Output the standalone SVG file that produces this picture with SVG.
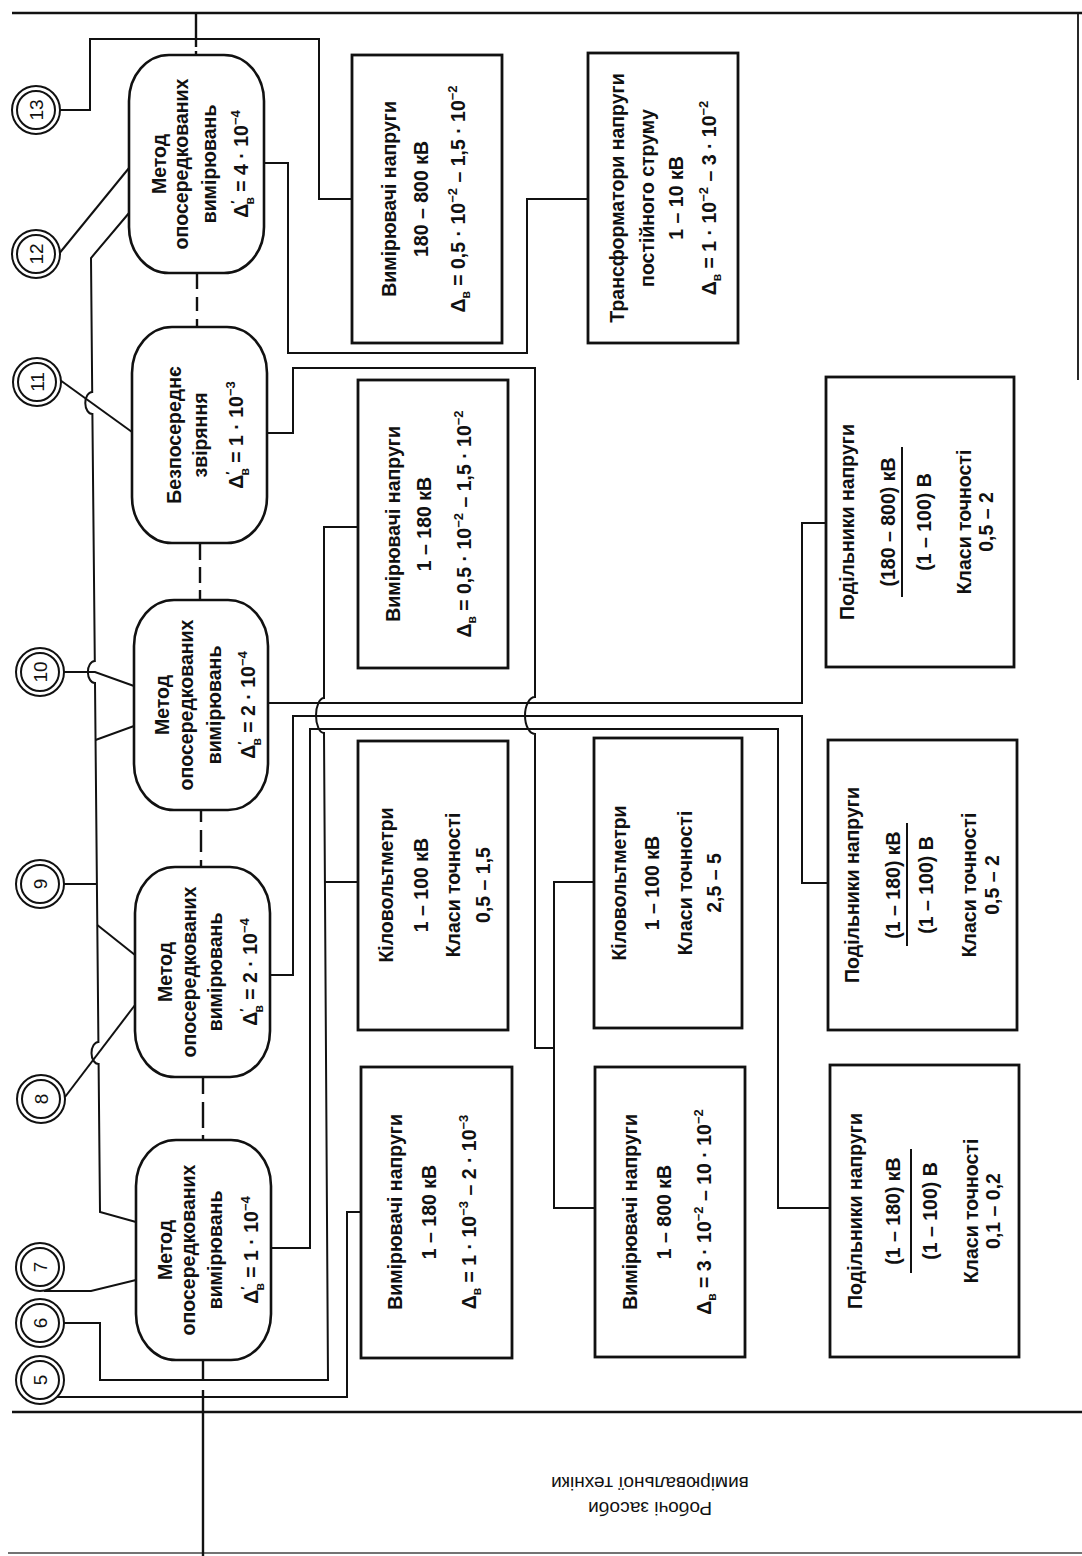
<svg xmlns="http://www.w3.org/2000/svg" width="1082" height="1556" viewBox="0 0 1082 1556">
<style>
.ln{fill:none;stroke:#111;stroke-width:2;stroke-linejoin:miter}
.sp{fill:none;stroke:#111;stroke-width:2.4}
.fr{fill:none;stroke:#111;stroke-width:2.5}
.box{fill:#fff;stroke:#111;stroke-width:2.8}
.ov{fill:#fff;stroke:#111;stroke-width:2.6}
.cc{fill:#fff;stroke:#111;stroke-width:2}
.bar{stroke:#111;stroke-width:2}
.t{font-family:"Liberation Sans",Arial,sans-serif;font-weight:bold;font-size:19.5px;fill:#111;text-anchor:middle}
.n{font-family:"Liberation Sans",Arial,sans-serif;font-size:19px;fill:#111;text-anchor:middle}
.f{font-family:"Liberation Sans",Arial,sans-serif;font-size:19px;fill:#111;text-anchor:middle}
.s{font-size:12px}
.u{font-size:13px}
</style>
<rect width="1082" height="1556" fill="#fff"/>

<g id="frame">
<path class="fr" d="M12,13 H1082"/>
<path class="ln" d="M1078,13 V380" style="stroke-width:1.8"/>
<path class="fr" d="M12,1412 H1082"/>
<path class="ln" d="M8,1553 H1082" style="stroke:#444;stroke-width:1.5"/>
</g>

<g id="connectors">
<path class="sp" d="M196,13 V47 M196,51 V55 M197,273 V289 M197,297 V311 M197,319 V327 M200,543 V560 M200,567 V583 M200,590 V600 M201,810 V822 M201,830 V852 M201,860 V867 M203,1077 V1094 M203,1102 V1128 M203,1135 V1140 M203,1360 V1380 M203,1390 V1556"/>
<path class="ln" d="M58,110 H90 V39 H319 V199 H352"/>
<path class="ln" d="M58,255 L129,168"/>
<path class="ln" d="M129,213 L91,258 L92.2,392 A7 11 0 0 0 92.4,414 L94.8,661 A7 11 0 0 0 95,683 L98.4,1042 A7 11 0 0 0 98.6,1064 L100,1212 L136,1222"/>
<path class="ln" d="M95.5,740 L134,726"/>
<path class="ln" d="M97.3,925 L135,955"/>
<path class="ln" d="M60,380 L132,432"/>
<path class="ln" d="M64,672 H95 L134,686"/>
<path class="ln" d="M64,884 H97"/>
<path class="ln" d="M65,1097 L135,1005"/>
<path class="ln" d="M44,1291 H91 L136,1280"/>
<path class="ln" d="M358,527 H324 V698 A8 17.5 0 0 0 324,733 L328,1380 H100 V1323 H64"/>
<path class="ln" d="M325,882 H358"/>
<path class="ln" d="M57,1397 H347 V1212 H361"/>
<path class="ln" d="M264,163 H288 V353 H527 V199 H588"/>
<path class="ln" d="M267,433 H293 V368 H535 V697 A10 18.5 0 0 0 535,734 V1048 H554"/>
<path class="ln" d="M594,882 H554 V1208 H595"/>
<path class="ln" d="M268,703 H802 V523 H826"/>
<path class="ln" d="M270,975 H293 V716 H802 V883 H828"/>
<path class="ln" d="M271,1248 H310 V729 H778 V1208 H830"/>
</g>

<g id="c13"><circle class="cc" cx="36" cy="110" r="24"/><circle class="cc" cx="36" cy="110" r="19"/><text class="n" transform="translate(43,110) rotate(-90)">13</text></g>
<g id="c12"><circle class="cc" cx="36" cy="254" r="24"/><circle class="cc" cx="36" cy="254" r="19"/><text class="n" transform="translate(43,254) rotate(-90)">12</text></g>
<g id="c11"><circle class="cc" cx="37" cy="382" r="24"/><circle class="cc" cx="37" cy="382" r="19"/><text class="n" transform="translate(44,382) rotate(-90)">11</text></g>
<g id="c10"><circle class="cc" cx="40" cy="672" r="24"/><circle class="cc" cx="40" cy="672" r="19"/><text class="n" transform="translate(47,672) rotate(-90)">10</text></g>
<g id="c9"><circle class="cc" cx="40" cy="884" r="24"/><circle class="cc" cx="40" cy="884" r="19"/><text class="n" transform="translate(47,884) rotate(-90)">9</text></g>
<g id="c8"><circle class="cc" cx="41" cy="1099" r="24"/><circle class="cc" cx="41" cy="1099" r="19"/><text class="n" transform="translate(48,1099) rotate(-90)">8</text></g>
<g id="c7"><circle class="cc" cx="40" cy="1267" r="24"/><circle class="cc" cx="40" cy="1267" r="19"/><text class="n" transform="translate(47,1267) rotate(-90)">7</text></g>
<g id="c6"><circle class="cc" cx="40" cy="1323" r="24"/><circle class="cc" cx="40" cy="1323" r="19"/><text class="n" transform="translate(47,1323) rotate(-90)">6</text></g>
<g id="c5"><circle class="cc" cx="40" cy="1380" r="24"/><circle class="cc" cx="40" cy="1380" r="19"/><text class="n" transform="translate(47,1380) rotate(-90)">5</text></g>

<g id="o13">
<rect class="ov" x="129" y="55" width="135" height="218" rx="40" ry="46"/>
<text class="t" transform="translate(166,164) rotate(-90)">Метод</text>
<text class="t" transform="translate(188,164) rotate(-90)">опосередкованих</text>
<text class="t" transform="translate(216,164) rotate(-90)">вимірювань</text>
<text class="t" transform="translate(248,164) rotate(-90)">Δ<tspan class="u" dy="-8">′</tspan><tspan class="s" dx="-4" dy="14">в</tspan><tspan dy="-6"> = 4 · 10</tspan><tspan class="u" dy="-8">−4</tspan></text>
</g>
<g id="o11">
<rect class="ov" x="132" y="327" width="135" height="216" rx="40" ry="46"/>
<text class="t" transform="translate(181,435) rotate(-90)">Безпосереднє</text>
<text class="t" transform="translate(207,435) rotate(-90)">звіряння</text>
<text class="t" transform="translate(243,435) rotate(-90)">Δ<tspan class="u" dy="-8">′</tspan><tspan class="s" dx="-4" dy="14">в</tspan><tspan dy="-6"> = 1 · 10</tspan><tspan class="u" dy="-8">−3</tspan></text>
</g>
<g id="o10">
<rect class="ov" x="134" y="600" width="134" height="210" rx="40" ry="46"/>
<text class="t" transform="translate(169,705) rotate(-90)">Метод</text>
<text class="t" transform="translate(193,705) rotate(-90)">опосередкованих</text>
<text class="t" transform="translate(221,705) rotate(-90)">вимірювань</text>
<text class="t" transform="translate(255,705) rotate(-90)">Δ<tspan class="u" dy="-8">′</tspan><tspan class="s" dx="-4" dy="14">в</tspan><tspan dy="-6"> = 2 · 10</tspan><tspan class="u" dy="-8">−4</tspan></text>
</g>
<g id="o9">
<rect class="ov" x="135" y="867" width="135" height="210" rx="40" ry="46"/>
<text class="t" transform="translate(172,972) rotate(-90)">Метод</text>
<text class="t" transform="translate(196,972) rotate(-90)">опосередкованих</text>
<text class="t" transform="translate(222,972) rotate(-90)">вимірювань</text>
<text class="t" transform="translate(257,972) rotate(-90)">Δ<tspan class="u" dy="-8">′</tspan><tspan class="s" dx="-4" dy="14">в</tspan><tspan dy="-6"> = 2 · 10</tspan><tspan class="u" dy="-8">−4</tspan></text>
</g>
<g id="o7">
<rect class="ov" x="136" y="1140" width="135" height="220" rx="40" ry="46"/>
<text class="t" transform="translate(172,1250) rotate(-90)">Метод</text>
<text class="t" transform="translate(195,1250) rotate(-90)">опосередкованих</text>
<text class="t" transform="translate(222,1250) rotate(-90)">вимірювань</text>
<text class="t" transform="translate(258,1250) rotate(-90)">Δ<tspan class="u" dy="-8">′</tspan><tspan class="s" dx="-4" dy="14">в</tspan><tspan dy="-6"> = 1 · 10</tspan><tspan class="u" dy="-8">−4</tspan></text>
</g>

<g id="b1">
<rect class="box" x="352" y="55" width="150" height="288"/>
<text class="t" transform="translate(396,199) rotate(-90)">Вимірювачі напруги</text>
<text class="t" transform="translate(428,199) rotate(-90)">180 – 800 кВ</text>
<text class="t" transform="translate(465,199) rotate(-90)">Δ<tspan class="s" dy="5">в</tspan><tspan dy="-5"> = 0,5 · 10</tspan><tspan class="u" dy="-8">−2</tspan><tspan dy="8"> – 1,5 · 10</tspan><tspan class="u" dy="-8">−2</tspan></text>
</g>
<g id="b2">
<rect class="box" x="588" y="53" width="150" height="290"/>
<text class="t" transform="translate(624,198) rotate(-90)">Трансформатори напруги</text>
<text class="t" transform="translate(654,198) rotate(-90)">постійного струму</text>
<text class="t" transform="translate(683,198) rotate(-90)">1 – 10 кВ</text>
<text class="t" transform="translate(716,198) rotate(-90)">Δ<tspan class="s" dy="5">в</tspan><tspan dy="-5"> = 1 · 10</tspan><tspan class="u" dy="-8">−2</tspan><tspan dy="8"> – 3 · 10</tspan><tspan class="u" dy="-8">−2</tspan></text>
</g>
<g id="b3">
<rect class="box" x="358" y="380" width="150" height="288"/>
<text class="t" transform="translate(400,524) rotate(-90)">Вимірювачі напруги</text>
<text class="t" transform="translate(431,524) rotate(-90)">1 – 180 кВ</text>
<text class="t" transform="translate(471,524) rotate(-90)">Δ<tspan class="s" dy="5">в</tspan><tspan dy="-5"> = 0,5 · 10</tspan><tspan class="u" dy="-8">−2</tspan><tspan dy="8"> – 1,5 · 10</tspan><tspan class="u" dy="-8">−2</tspan></text>
</g>
<g id="b4">
<rect class="box" x="826" y="377" width="188" height="290"/>
<text class="t" transform="translate(854,522) rotate(-90)">Подільники напруги</text>
<text class="t" transform="translate(895,522) rotate(-90)">(180 – 800) кВ</text>
<line class="bar" x1="902" y1="447" x2="902" y2="597"/>
<text class="t" transform="translate(931,522) rotate(-90)">(1 – 100) В</text>
<text class="t" transform="translate(971,522) rotate(-90)">Класи точності</text>
<text class="t" transform="translate(993,522) rotate(-90)">0,5 – 2</text>
</g>
<g id="b5">
<rect class="box" x="358" y="741" width="150" height="289"/>
<text class="t" transform="translate(393,885) rotate(-90)">Кіловольтметри</text>
<text class="t" transform="translate(428,885) rotate(-90)">1 – 100 кВ</text>
<text class="t" transform="translate(460,885) rotate(-90)">Класи точності</text>
<text class="t" transform="translate(490,885) rotate(-90)">0,5 – 1,5</text>
</g>
<g id="b6">
<rect class="box" x="594" y="738" width="148" height="290"/>
<text class="t" transform="translate(626,883) rotate(-90)">Кіловольтметри</text>
<text class="t" transform="translate(659,883) rotate(-90)">1 – 100 кВ</text>
<text class="t" transform="translate(692,883) rotate(-90)">Класи точності</text>
<text class="t" transform="translate(721,883) rotate(-90)">2,5 – 5</text>
</g>
<g id="b7">
<rect class="box" x="828" y="740" width="189" height="290"/>
<text class="t" transform="translate(859,885) rotate(-90)">Подільники напруги</text>
<text class="t" transform="translate(900,885) rotate(-90)">(1 – 180) кВ</text>
<line class="bar" x1="907" y1="823" x2="907" y2="946"/>
<text class="t" transform="translate(933,885) rotate(-90)">(1 – 100) В</text>
<text class="t" transform="translate(976,885) rotate(-90)">Класи точності</text>
<text class="t" transform="translate(999,885) rotate(-90)">0,5 – 2</text>
</g>
<g id="b8">
<rect class="box" x="361" y="1067" width="151" height="291"/>
<text class="t" transform="translate(402,1212) rotate(-90)">Вимірювачі напруги</text>
<text class="t" transform="translate(436,1212) rotate(-90)">1 – 180 кВ</text>
<text class="t" transform="translate(476,1212) rotate(-90)">Δ<tspan class="s" dy="5">в</tspan><tspan dy="-5"> = 1 · 10</tspan><tspan class="u" dy="-8">−3</tspan><tspan dy="8"> – 2 · 10</tspan><tspan class="u" dy="-8">−3</tspan></text>
</g>
<g id="b9">
<rect class="box" x="595" y="1067" width="150" height="290"/>
<text class="t" transform="translate(637,1212) rotate(-90)">Вимірювачі напруги</text>
<text class="t" transform="translate(671,1212) rotate(-90)">1 – 800 кВ</text>
<text class="t" transform="translate(711,1212) rotate(-90)">Δ<tspan class="s" dy="5">в</tspan><tspan dy="-5"> = 3 · 10</tspan><tspan class="u" dy="-8">−2</tspan><tspan dy="8"> – 10 · 10</tspan><tspan class="u" dy="-8">−2</tspan></text>
</g>
<g id="b10">
<rect class="box" x="830" y="1065" width="189" height="292"/>
<text class="t" transform="translate(862,1211) rotate(-90)">Подільники напруги</text>
<text class="t" transform="translate(900,1211) rotate(-90)">(1 – 180) кВ</text>
<line class="bar" x1="911" y1="1149" x2="911" y2="1273"/>
<text class="t" transform="translate(937,1211) rotate(-90)">(1 – 100) В</text>
<text class="t" transform="translate(978,1211) rotate(-90)">Класи точності</text>
<text class="t" transform="translate(1000,1211) rotate(-90)">0,1 – 0,2</text>
</g>

<g id="title">
<text class="f" transform="translate(650,1502) rotate(180)">Робочі засоби</text>
<text class="f" transform="translate(650,1477) rotate(180)">вимірювальної техніки</text>
</g>
</svg>
